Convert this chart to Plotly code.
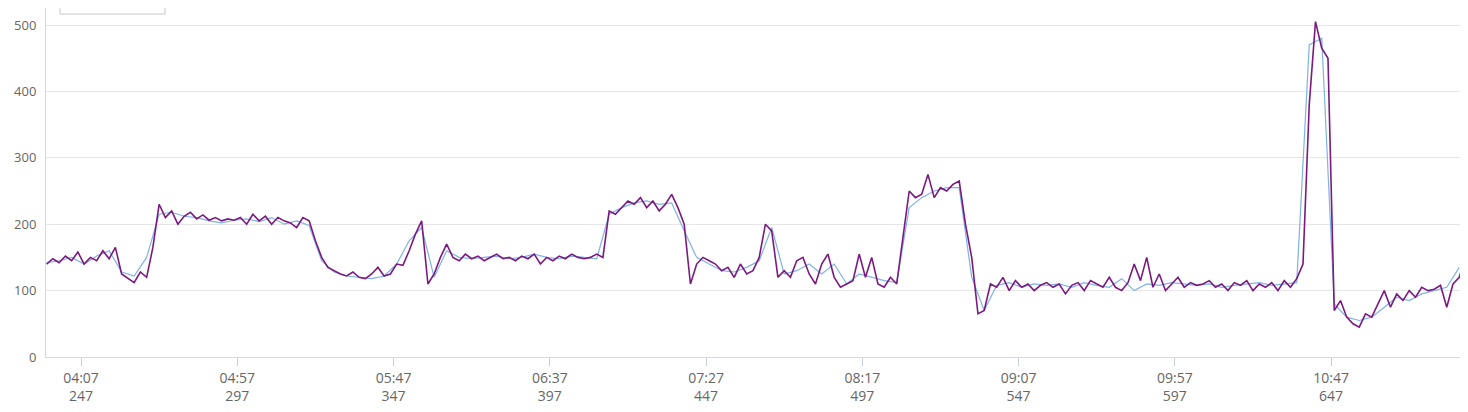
import plotly.graph_objects as go

# purple series, one value every 2 minutes (minute 236 .. 690)
purple_x = list(range(236, 691, 2))
purple_y = [
    140, 148, 142, 152, 145, 158, 140, 150, 145, 160, 148, 165,
    125, 118, 112, 128, 120, 165,
    230, 210, 220, 200, 212, 218, 208, 214, 206, 210, 205, 208, 206, 210, 200, 215, 205, 212, 200, 210, 205, 202, 195, 210, 205,
    175, 150, 135,
    130, 125, 122, 128, 120, 118, 125, 135, 122, 125,
    140, 138, 160, 185, 205,
    110, 125, 150, 170,
    150, 145, 155, 148, 152, 145, 150, 155, 148, 150, 145, 152, 148, 155, 140, 150, 145, 152, 148, 155, 150, 148, 150, 155, 150,
    220, 215, 225, 235, 230, 240, 225, 235, 220, 230, 245, 225, 200,
    110, 140, 150, 145,
    140, 130, 135, 120, 140, 125, 130, 150,
    200, 190, 120,
    130, 120, 145, 150, 125, 110, 140, 155, 120, 105,
    110, 115, 155, 120, 150, 110, 105, 120, 110,
    180, 250, 240, 245, 275, 240, 255, 250, 260, 265,
    200, 150, 65, 70,
    110, 105, 120, 100, 115, 105, 110, 100, 108, 112,
    105, 110, 95, 108, 112, 100, 115, 110, 105, 120,
    105, 100, 112, 140, 115, 150, 105, 125, 100, 110,
    120, 105, 112, 108, 110, 115, 105, 110, 100, 112,
    108, 115, 100, 110, 105, 112, 100, 115, 105, 118,
    140, 380, 505, 465, 450, 70,
    85, 60, 50, 45, 65, 60, 80, 100, 75, 95, 85, 100, 90, 105, 100, 102, 108, 75, 110, 120, 150,
]

# light blue series, one value every 4 minutes (minute 236 .. 688)
blue_x = list(range(236, 691, 4))
blue_y = [
    142, 145, 150, 140, 152, 160,
    128, 122, 150,
    215, 218, 212, 210, 205, 202, 206, 208, 204, 210, 200, 205, 198,
    145, 128, 122, 120, 118, 122,
    140, 175, 195,
    120, 160,
    150, 148, 150, 152, 148, 150, 155, 150, 148, 152, 150, 148,
    215, 225, 232, 235, 230, 232, 190,
    150, 140, 130, 128, 135, 145,
    195, 125, 130, 140, 125, 140,
    110, 125, 120, 115, 112,
    225, 240, 250, 255, 255,
    120, 70,
    108, 112, 105, 110, 108, 110, 105, 112, 108, 105, 118, 100, 110, 108, 112, 110, 108, 110, 105, 108, 110, 112, 108, 110, 112,
    470, 480, 80,
    60, 55, 60, 75, 90, 85, 95, 100, 105, 135,
]

tick_vals = [247, 297, 347, 397, 447, 497, 547, 597, 647]
tick_text = ["04:07<br>247", "04:57<br>297", "05:47<br>347", "06:37<br>397", "07:27<br>447",
             "08:17<br>497", "09:07<br>547", "09:57<br>597", "10:47<br>647"]

fig = go.Figure()
fig.add_trace(go.Scatter(x=blue_x, y=blue_y, mode="lines",
                         line=dict(color="#7fb2e5", width=1.2)))
fig.add_trace(go.Scatter(x=purple_x, y=purple_y, mode="lines",
                         line=dict(color="#7a1a80", width=1.6)))

# the page body has an 8px margin, so the figure is sized to end at the window edge
fig.update_layout(
    width=1460, height=404,
    margin=dict(l=38, r=0, t=0, b=55),
    paper_bgcolor="white", plot_bgcolor="white",
    showlegend=False,
    font=dict(family="Open Sans", size=14, color="#666666"),
    xaxis=dict(range=[235.8, 690.8], tickvals=tick_vals, ticktext=tick_text,
               showgrid=False, showline=True, linecolor="#d8d8e0", linewidth=1,
               ticks="outside", ticklen=8, tickcolor="#c8d0e0", zeroline=False,
               automargin=False),
    yaxis=dict(range=[0, 525.6], tickvals=[0, 100, 200, 300, 400, 500],
               showgrid=True, gridcolor="#e6e6e6", showline=True,
               linecolor="#d8d8d8", zeroline=False, ticks="", ticklabelstandoff=6,
               tickfont=dict(size=13), automargin=False),
    # remnant of a legend box clipped at the top
    shapes=[dict(type="rect", xref="paper", yref="paper",
                 x0=14 / 1422, x1=119 / 1422, y0=(349 - 6) / 349, y1=1.1,
                 line=dict(color="#c8c8c8", width=1), fillcolor="white")],
)

fig.write_html("out.html")
